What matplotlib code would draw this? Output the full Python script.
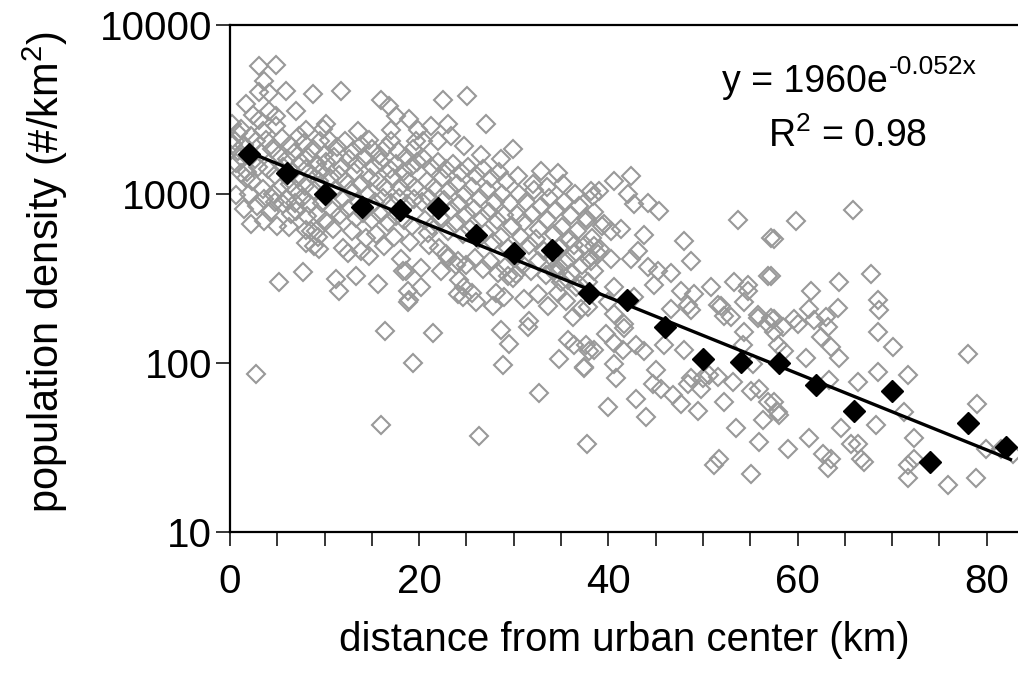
import numpy as np
import matplotlib
matplotlib.use("Agg")
import matplotlib.pyplot as plt
from matplotlib.ticker import FixedLocator, MultipleLocator, NullLocator, FuncFormatter

plt.rcParams['font.family'] = ['Liberation Sans', 'DejaVu Sans']

# grey open diamonds: individual municipalities (distance km, density #/km2)
band_00_10 = [
    (3.1, 5700), (4.9, 5800), (3.6, 4650), (3.1, 4000), (4.1, 3950), (5.9, 4050),
    (8.8, 3900), (1.7, 3400), (7.0, 3090), (2.4, 2950), (3.1, 2750), (4.9, 2885),
    (4.1, 3090), (1.2, 2430), (2.2, 2200), (3.5, 2350), (4.9, 2520), (10.1, 2600),
    (9.8, 2430), (8.0, 2400), (7.3, 2200), (0.2, 2600), (0.9, 2300), (0.5, 2050),
    (0.3, 1970), (0.8, 1800), (1.5, 1950), (2.8, 2050), (3.8, 2100), (5.5, 2150),
    (6.3, 1950), (7.8, 2000), (8.8, 1850), (9.5, 2050),
    (0.6, 1520), (1.2, 1650), (2.6, 1600), (3.3, 1750), (4.4, 1850), (5.2, 1700),
    (6.0, 1600), (6.8, 1750), (7.5, 1550), (8.3, 1650), (9.2, 1500), (9.9, 1700),
    (1.2, 1330), (1.8, 1350), (3.0, 1450), (4.0, 1400), (4.8, 1300), (5.6, 1450),
    (6.6, 1350), (7.2, 1250), (8.0, 1400), (8.7, 1300), (9.6, 1350),
    (1.7, 1250), (2.3, 1200), (3.5, 1070), (4.5, 1000), (5.3, 1080), (6.3, 1150),
    (7.0, 1050), (7.9, 1120), (8.9, 1050), (9.4, 1200),
    (0.6, 980), (2.0, 1000), (3.6, 940), (4.8, 900), (5.9, 940), (6.9, 880),
    (7.6, 950), (8.4, 870), (9.7, 880),
    (1.5, 820), (2.9, 850), (4.2, 780), (5.6, 870), (6.4, 760), (7.0, 790),
    (8.1, 740), (9.3, 760),
    (2.2, 660), (3.6, 690), (5.0, 650), (6.2, 640), (8.0, 610), (9.1, 600), (10.1, 690),
    (8.6, 600), (9.3, 560), (8.0, 510), (9.4, 470), (8.9, 490),
    (5.2, 303), (7.7, 347), (2.7, 86),
]
band_10_20 = [
    (11.7, 4050), (16.0, 3600), (16.8, 3300), (17.5, 2885), (18.9, 2760), (13.5, 2350),
    (14.7, 2100), (17.0, 2400), (17.0, 2050), (19.9, 2400), (19.7, 2050),
    (10.5, 2100), (11.3, 1900), (12.2, 2050), (13.0, 1800), (13.8, 1950), (15.0, 1850),
    (15.8, 1700), (16.5, 1900), (17.8, 1800), (18.6, 1650), (19.4, 1850),
    (10.2, 1550), (11.0, 1650), (11.8, 1450), (12.6, 1600), (13.4, 1500), (14.2, 1650),
    (15.2, 1450), (16.0, 1550), (16.9, 1400), (17.6, 1500), (18.3, 1350), (19.1, 1450),
    (19.8, 1550),
    (10.6, 1250), (11.5, 1300), (12.3, 1200), (13.1, 1350), (13.9, 1150), (14.8, 1250),
    (15.6, 1200), (16.4, 1100), (17.2, 1250), (18.0, 1100), (18.8, 1200), (19.6, 1100),
    (10.3, 1000), (11.1, 1050), (12.0, 950), (12.8, 1050), (13.6, 900), (14.5, 980),
    (15.3, 900), (16.2, 950), (17.0, 880), (17.9, 950), (18.7, 870), (19.5, 930),
    (10.8, 800), (11.6, 750), (12.5, 820), (13.3, 720), (14.1, 770), (15.0, 700),
    (15.9, 760), (16.7, 680), (17.5, 740), (18.4, 700), (19.2, 650),
    (11.9, 480), (12.5, 450), (14.4, 550), (13.8, 460), (14.7, 430), (16.3, 490),
    (10.9, 620), (12.9, 600), (15.4, 580), (17.3, 560), (19.0, 520),
    (11.2, 315), (11.5, 265), (13.3, 325), (15.6, 295), (16.4, 155), (19.3, 100),
    (18.9, 237), (16.0, 43), (18.1, 415), (18.3, 348), (18.8, 265), (18.6, 350), (18.8, 231),
]
band_20_30 = [
    (20.4, 2050), (22.5, 3600), (25.1, 3800), (21.2, 2520), (23.1, 2600), (27.1, 2600),
    (22.0, 2050), (23.4, 2200), (24.7, 1915), (26.5, 1700), (28.6, 1600), (29.9, 1850),
    (20.5, 1600), (21.3, 1450), (22.0, 1550), (22.8, 1400), (23.6, 1500), (24.4, 1350),
    (25.2, 1450), (26.0, 1300), (26.8, 1400), (27.6, 1250), (28.4, 1350), (29.2, 1200),
    (20.8, 1200), (21.6, 1100), (22.4, 1250), (23.2, 1050), (24.0, 1150), (24.8, 1000),
    (25.6, 1100), (26.4, 950), (27.2, 1050), (28.0, 900), (28.8, 1000), (29.6, 880),
    (20.3, 900), (21.0, 950), (21.8, 850), (22.6, 920), (23.4, 800), (24.2, 870),
    (25.0, 760), (25.8, 820), (26.6, 720), (27.4, 780), (28.2, 700), (29.0, 750), (29.8, 650),
    (20.6, 700), (21.4, 650), (22.2, 720), (23.0, 600), (23.8, 660), (24.6, 580),
    (25.4, 620), (26.2, 540), (27.0, 590), (27.8, 520), (28.6, 560), (29.4, 480),
    (20.9, 585), (21.0, 500), (22.1, 480), (22.8, 440), (23.1, 420), (24.1, 400),
    (25.0, 380), (25.9, 420), (26.7, 360), (27.5, 400), (28.3, 340), (29.1, 370), (29.9, 320),
    (20.2, 365), (20.2, 283), (22.3, 348), (23.9, 380), (24.2, 310), (24.7, 280),
    (25.6, 260), (26.0, 231), (24.6, 245), (24.1, 255), (28.1, 260), (27.8, 216),
    (29.0, 247), (29.4, 325),
    (21.5, 150), (28.6, 157), (29.5, 130), (28.9, 97), (26.3, 37),
]
band_30_40 = [
    (30.2, 335), (31.1, 240), (32.6, 255), (33.6, 216), (34.7, 260), (35.5, 233),
    (36.3, 188), (37.1, 210), (34.8, 370), (34.5, 335), (35.7, 310), (36.6, 283),
    (37.8, 303), (38.5, 348),
    (31.5, 164), (31.6, 176), (35.7, 137), (36.4, 128), (37.9, 117), (34.8, 105),
    (37.4, 95), (32.7, 66), (37.7, 33),
    (32.9, 1360), (34.7, 1330), (30.4, 1270), (32.0, 1150), (38.4, 970), (37.6, 720),
    (36.4, 500), (33.5, 1100), (35.2, 1150), (36.5, 1000),
    (30.5, 1000), (31.3, 900), (32.1, 1050), (32.9, 850), (33.7, 950), (34.5, 800),
    (35.3, 900), (36.1, 750), (36.9, 850), (37.7, 700), (38.5, 780), (39.3, 650),
    (30.3, 750), (31.1, 680), (31.9, 760), (32.7, 620), (33.5, 700), (34.3, 580),
    (35.1, 640), (35.9, 540), (36.7, 600), (37.5, 500), (38.3, 550), (39.1, 470),
    (30.8, 560), (31.6, 500), (32.4, 540), (33.2, 460), (34.0, 420), (34.8, 480),
    (35.6, 400), (36.4, 440), (37.2, 380), (38.0, 410),
    (30.1, 420), (31.0, 380), (31.8, 350), (32.6, 400), (33.4, 330), (34.2, 360),
    (35.0, 300), (36.0, 340), (37.0, 290),
    (37.8, 213), (37.6, 128), (38.5, 120), (39.7, 148), (37.4, 93),
    (38.2, 1036), (39.0, 1036), (38.5, 490), (38.9, 440), (38.2, 400), (39.5, 660),
]
band_40_50 = [
    (40.6, 1190), (42.4, 1270), (42.1, 1000), (42.7, 870), (44.2, 880), (45.4, 790),
    (40.3, 600), (41.3, 620), (43.8, 575), (48.0, 525), (48.7, 400), (40.3, 415),
    (42.4, 415), (43.1, 460), (44.2, 372), (45.2, 350), (46.6, 340), (47.7, 265),
    (49.0, 255), (48.4, 220), (40.6, 283), (42.7, 247), (44.8, 290), (40.6, 194),
    (41.6, 170), (40.0, 231), (41.6, 160), (40.6, 131), (41.5, 120), (42.9, 128),
    (43.8, 117), (40.6, 99), (40.8, 81), (45.0, 91), (44.7, 75), (45.6, 70),
    (42.9, 61), (46.8, 65), (40.0, 55), (44.0, 48), (47.7, 57), (49.5, 52),
    (45.9, 128), (48.0, 120), (48.7, 81), (50.0, 81), (49.8, 70), (48.4, 75),
    (46.6, 210), (48.7, 207),
]
band_50_60 = [
    (53.7, 705), (57.2, 550), (50.8, 280), (53.3, 300), (54.8, 290), (56.9, 325),
    (54.8, 265), (54.3, 231), (51.6, 220), (52.2, 190), (55.8, 185), (57.2, 185),
    (50.6, 85), (51.6, 83), (53.2, 77), (52.2, 59), (53.5, 41), (55.1, 68),
    (55.9, 70), (56.9, 59), (57.9, 51), (56.3, 46), (55.9, 34), (51.2, 25),
    (51.7, 27), (55.1, 22), (51.9, 216), (53.0, 188), (54.3, 153), (55.8, 193),
    (56.9, 170), (57.5, 153), (55.3, 98), (54.2, 128), (57.9, 128),
    (59.8, 690), (57.5, 540), (57.2, 325), (59.6, 183), (57.5, 183), (58.5, 164),
    (58.6, 117), (57.5, 59), (58.0, 49), (59.0, 31),
]
band_60_83 = [
    (61.4, 265), (64.4, 303), (67.8, 335), (68.5, 235), (68.6, 205), (64.3, 211),
    (61.2, 210), (60.0, 170), (61.7, 180), (63.0, 188), (63.2, 164), (62.5, 143),
    (68.5, 153), (70.1, 125), (63.5, 125), (64.4, 107), (60.9, 107), (78.0, 113),
    (68.5, 89), (71.7, 85), (66.4, 77), (63.3, 79), (79.0, 57), (71.2, 51), (65.9, 800),
    (61.2, 36), (64.6, 41), (68.3, 43), (65.6, 33), (66.4, 33), (62.7, 29),
    (63.5, 27), (63.2, 24), (66.7, 27), (67.0, 26), (72.3, 36), (72.3, 27),
    (71.7, 25), (71.7, 21), (75.9, 19), (78.9, 21), (79.9, 31), (82.8, 29), (81.5, 31),
]

# black filled diamonds: averages per 4 km ring
bin_dist = [2, 6, 10, 14, 18, 22, 26, 30, 34, 38, 42, 46, 50, 54, 58, 62, 66, 70, 74, 78, 82]
bin_density = [1730, 1330, 1000, 840, 800, 830, 570, 450, 465, 260, 236, 163, 106, 102,
               100, 74, 52, 68, 26, 44, 32]

# exponential fit shown on the chart
fit_a = 1960
fit_b = -0.052
fit_range = [2, 82.5]

x_ticks = [0, 20, 40, 60, 80]
y_ticks = [10, 100, 1000, 10000]

grey = band_00_10 + band_10_20 + band_20_30 + band_30_40 + band_40_50 + band_50_60 + band_60_83
gx = [p[0] for p in grey]
gy = [p[1] for p in grey]

fig = plt.figure(figsize=(10.18, 6.73), dpi=100)
ax = fig.add_axes([0.2259, 0.2095, 0.7741, 0.7534])

ax.plot(gx, gy, ls="none", marker="D", ms=8.8, mfc="none", mec="#999999", mew=1.5, zorder=2)
fx = np.array(fit_range)
ax.plot(fx, fit_a * np.exp(fit_b * fx), color="k", lw=2.4, zorder=3)
ax.plot(bin_dist, bin_density, ls="none", marker="D", ms=11, mfc="k", mec="k", zorder=4)

ax.set_yscale("log")
ax.set_ylim(10, 10000)
ax.set_xlim(0, 83.3)

ax.xaxis.set_major_locator(FixedLocator(x_ticks))
ax.xaxis.set_minor_locator(MultipleLocator(5))
ax.yaxis.set_major_locator(FixedLocator(y_ticks))
ax.yaxis.set_minor_locator(NullLocator())
ax.yaxis.set_major_formatter(FuncFormatter(lambda v, p: f"{v:.0f}"))

ax.tick_params(axis="both", which="both", direction="out", length=10, width=1.1, color="k")
ax.tick_params(axis="x", labelsize=29, pad=12)
ax.tick_params(axis="y", labelsize=29, pad=3)

for side in ["left", "bottom", "top"]:
    ax.spines[side].set_linewidth(1.6)
    ax.spines[side].set_color("k")
ax.spines["right"].set_visible(False)

fig.text(624 / 1018, 1 - 640 / 673, "distance from urban center (km)",
         ha="center", va="center", fontsize=29)
fig.text(45 / 1018, 1 - 272 / 673, r"population density (#/km$^{\mathregular{2}}$)",
         ha="center", va="center", rotation=90, fontsize=30)

# fit equation, exponent drawn as its own small text so it keeps a plain hyphen
fig.text(722 / 1018, 1 - 92 / 673, "y = 1960e", ha="left", va="baseline", fontsize=27)
fig.text(889 / 1018, 1 - 74 / 673, "-0.052x", ha="left", va="baseline", fontsize=19)
fig.text(768 / 1018, 1 - 147 / 673, r"R$^{\mathregular{2}}$ = 0.98",
         ha="left", va="baseline", fontsize=27)

fig.savefig("out.png", dpi=100)
